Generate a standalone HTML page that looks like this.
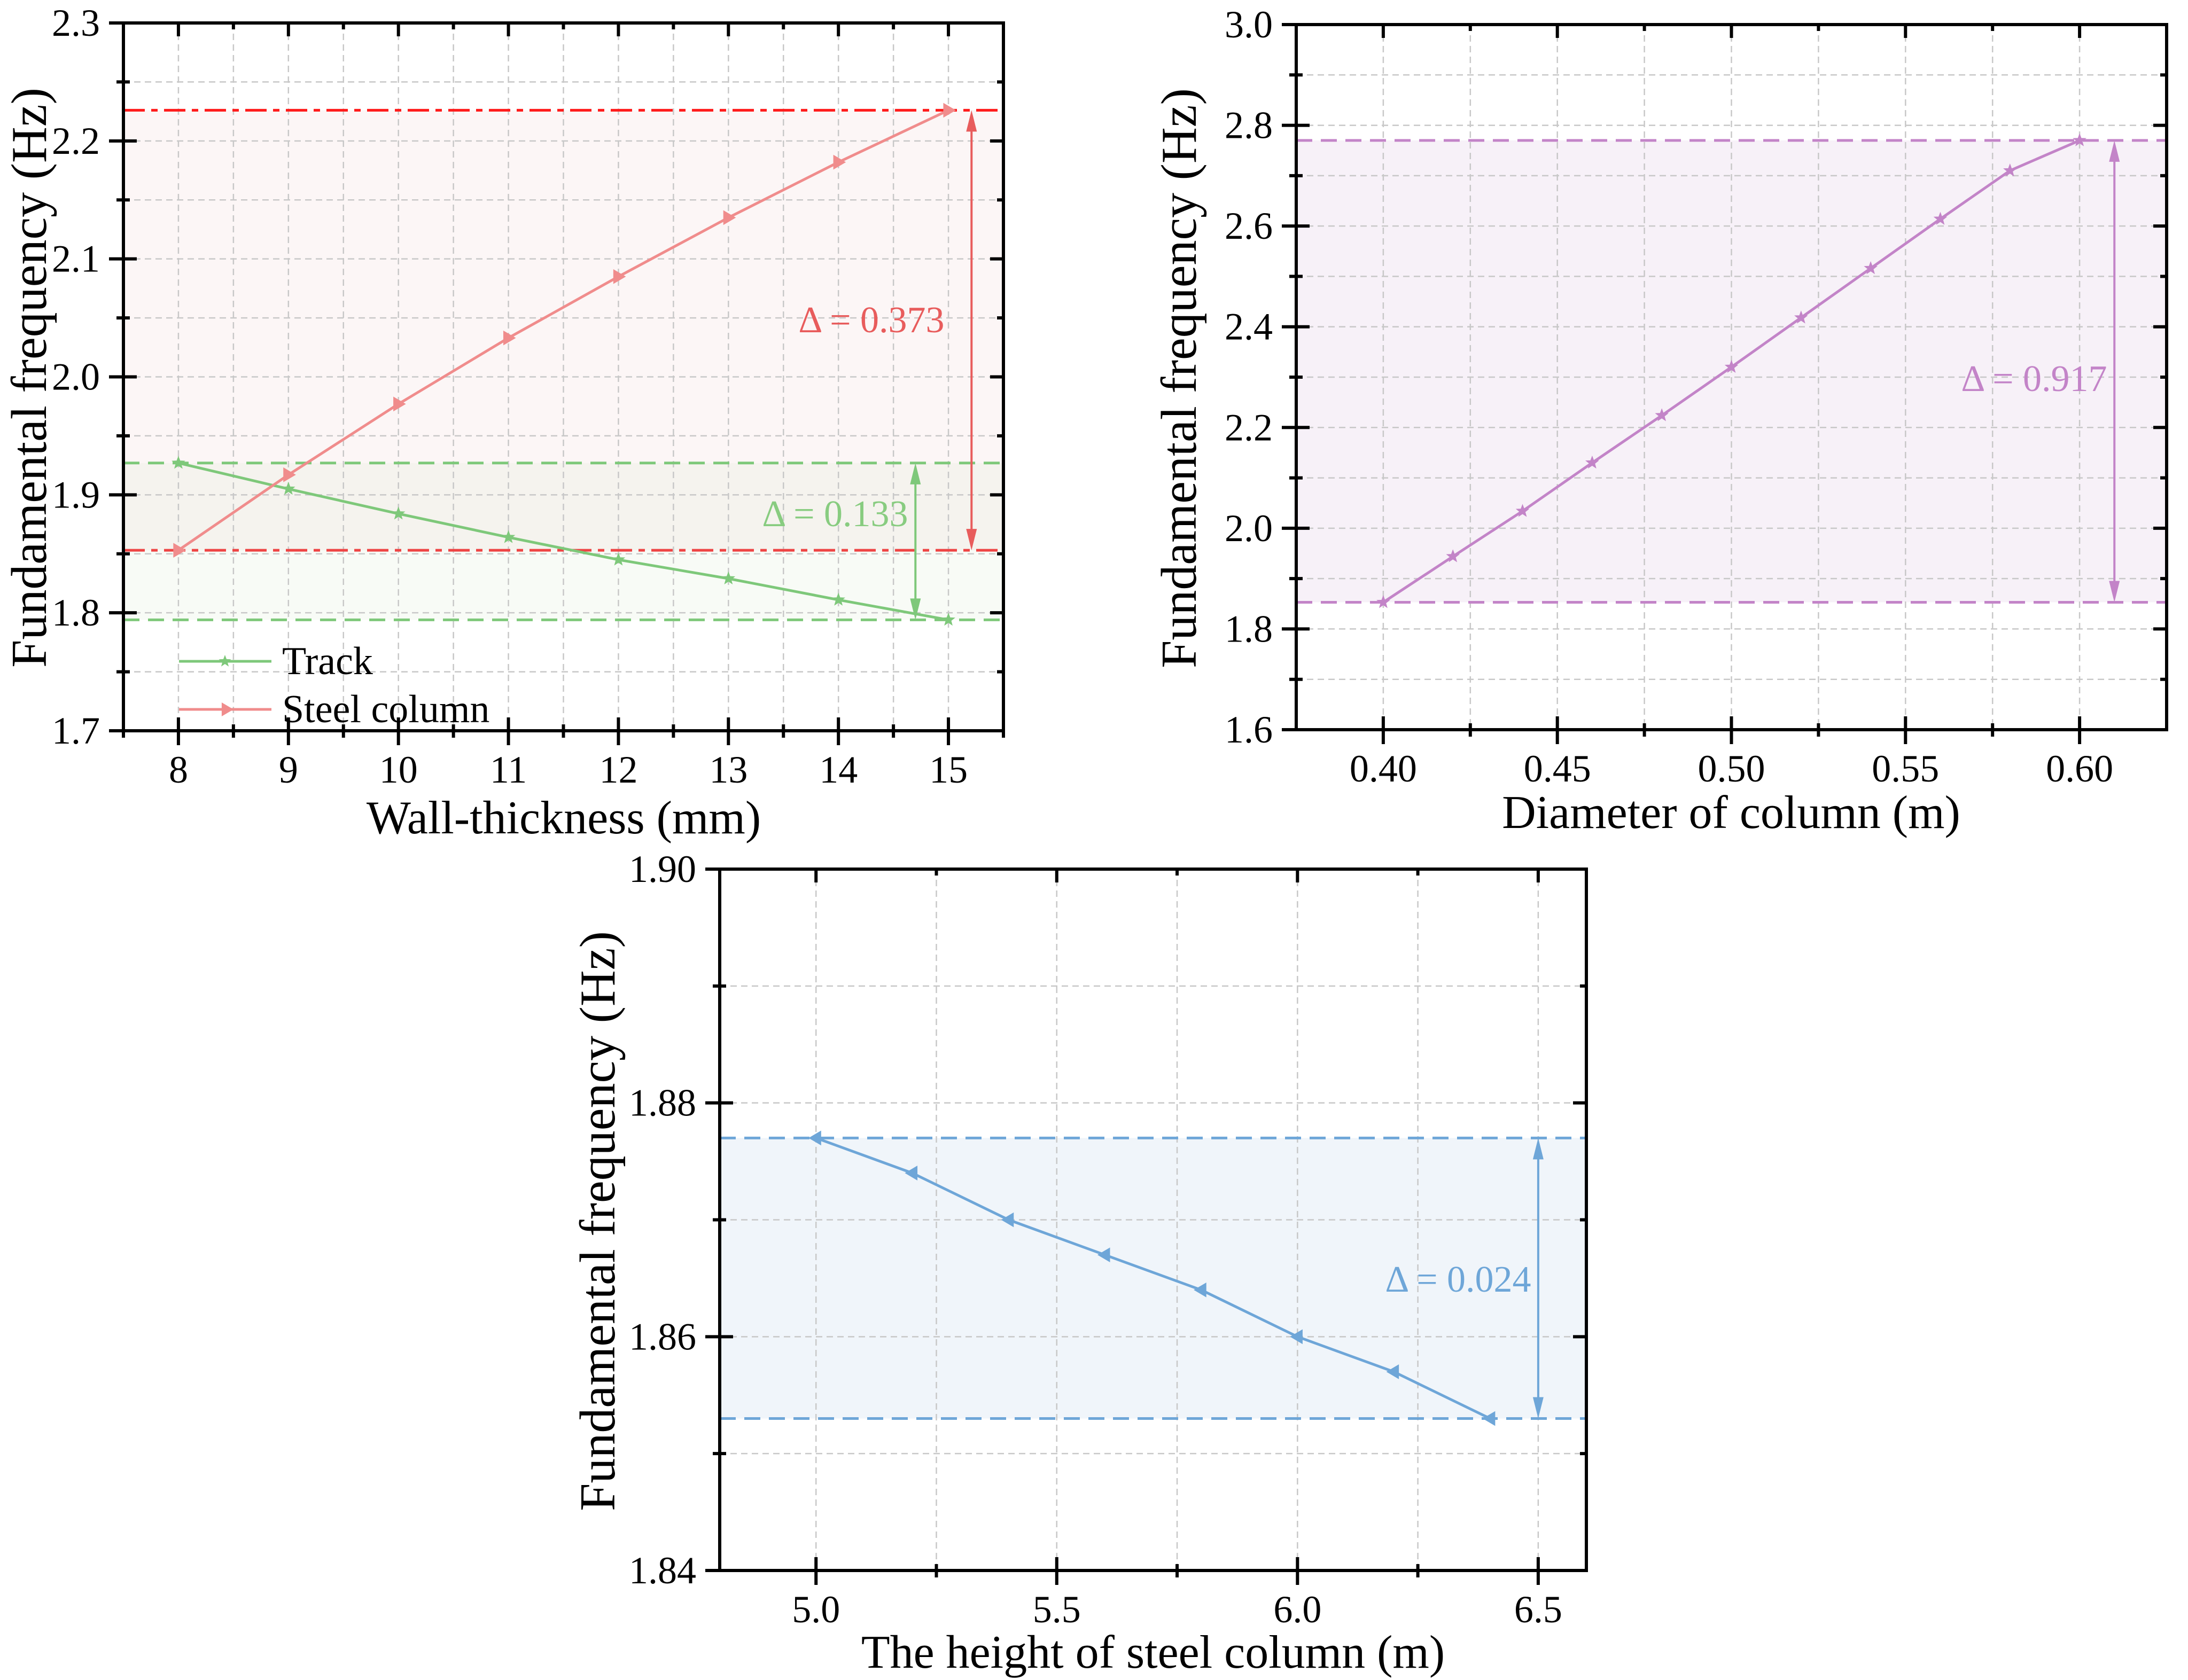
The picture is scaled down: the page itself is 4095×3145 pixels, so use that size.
<!DOCTYPE html>
<html><head><meta charset="utf-8"><style>
html,body{margin:0;padding:0;background:#fff}
svg{display:block}
svg text{font-family:"Liberation Serif",serif}
</style></head><body>
<svg id="fig" width="4095" height="3145" viewBox="0 0 4095 3145" xmlns="http://www.w3.org/2000/svg" font-family="Liberation Serif, serif"></svg>
<script>
// ---- Chart 1 data: wall thickness ----
const wallThickness = [8, 9, 10, 11, 12, 13, 14, 15];
const trackFreq = [1.927, 1.905, 1.884, 1.864, 1.845, 1.829, 1.811, 1.794];
const steelFreq = [1.853, 1.917, 1.977, 2.033, 2.085, 2.135, 2.182, 2.226];
const c1XTicks = [8, 9, 10, 11, 12, 13, 14, 15];
const c1YTicks = ["1.7", "1.8", "1.9", "2.0", "2.1", "2.2", "2.3"];
const c1Deltas = ["Δ = 0.373", "Δ = 0.133"];
// ---- Chart 2 data: diameter ----
const diameters = [0.40, 0.42, 0.44, 0.46, 0.48, 0.50, 0.52, 0.54, 0.56, 0.58, 0.60];
const diamFreq = [1.853, 1.944, 2.034, 2.130, 2.224, 2.320, 2.418, 2.516, 2.614, 2.710, 2.770];
const c2XTicks = ["0.40", "0.45", "0.50", "0.55", "0.60"];
const c2YTicks = ["1.6", "1.8", "2.0", "2.2", "2.4", "2.6", "2.8", "3.0"];
const c2Delta = "Δ = 0.917";
// ---- Chart 3 data: height ----
const heights = [5.0, 5.2, 5.4, 5.6, 5.8, 6.0, 6.2, 6.4];
const heightFreq = [1.877, 1.874, 1.870, 1.867, 1.864, 1.860, 1.857, 1.853];
const c3XTicks = ["5.0", "5.5", "6.0", "6.5"];
const c3YTicks = ["1.84", "1.86", "1.88", "1.90"];
const c3Delta = "Δ = 0.024";

const NS = "http://www.w3.org/2000/svg";
const FONT = '"Liberation Serif", serif';
const fig = document.getElementById('fig');
function mk(tag, attrs, parent) {
  const e = document.createElementNS(NS, tag);
  for (const k in attrs) e.setAttribute(k, attrs[k]);
  if (tag === 'text') e.style.fontFamily = FONT;
  (parent || fig).appendChild(e);
  return e;
}
function makeAxes(L, R, T, B, x0, x1, y0, y1) {
  return {
    sx: v => L + (v - x0) / (x1 - x0) * (R - L),
    sy: v => B - (v - y0) / (y1 - y0) * (B - T)
  };
}
function markerPath(type, x, y, s) {
  if (type === 'right') return `M${x-s*0.7},${y-s} L${x+s},${y} L${x-s*0.7},${y+s} Z`;
  if (type === 'left') return `M${x+s*0.7},${y-s} L${x-s},${y} L${x+s*0.7},${y+s} Z`;
  let d = '';
  for (let i = 0; i < 10; i++) {
    const r = i % 2 ? s * 0.42 : s;
    const a = -Math.PI / 2 + i * Math.PI / 5;
    d += (i ? 'L' : 'M') + (x + r * Math.cos(a)).toFixed(1) + ',' + (y + r * Math.sin(a)).toFixed(1);
  }
  return d + 'Z';
}
function frame(g, L, R, T, B, xs, xsMinor, ys, ysMinor, ax) {
  [...xs, ...xsMinor].forEach(v => { const x = ax.sx(v); mk('line', {x1: x, x2: x, y1: T, y2: B, stroke: '#c8c8c8', 'stroke-width': 2.5, 'stroke-dasharray': '12,8'}, g); });
  [...ys, ...ysMinor].forEach(v => { const y = ax.sy(v); mk('line', {x1: L, x2: R, y1: y, y2: y, stroke: '#c8c8c8', 'stroke-width': 2.5, 'stroke-dasharray': '12,8'}, g); });
}
function axesBox(g, L, R, T, B, xs, xsMinor, ys, ysMinor, ax) {
  const st = {stroke: '#000', 'stroke-width': 6};
  mk('rect', {x: L, y: T, width: R - L, height: B - T, fill: 'none', stroke: '#000', 'stroke-width': 6}, g);
  xs.forEach(v => { const x = ax.sx(v);
    mk('line', {x1: x, x2: x, y1: B - 25, y2: B + 27, ...st}, g);
    mk('line', {x1: x, x2: x, y1: T, y2: T + 25, ...st}, g); });
  xsMinor.forEach(v => { const x = ax.sx(v);
    mk('line', {x1: x, x2: x, y1: B - 12, y2: B + 13, ...st}, g);
    mk('line', {x1: x, x2: x, y1: T, y2: T + 12, ...st}, g); });
  ys.forEach(v => { const y = ax.sy(v);
    mk('line', {x1: L - 27, x2: L + 25, y1: y, y2: y, ...st}, g);
    mk('line', {x1: R - 25, x2: R, y1: y, y2: y, ...st}, g); });
  ysMinor.forEach(v => { const y = ax.sy(v);
    mk('line', {x1: L - 13, x2: L + 12, y1: y, y2: y, ...st}, g);
    mk('line', {x1: R - 12, x2: R, y1: y, y2: y, ...st}, g); });
}
function tickLabels(g, xs, xl, ys, yl, ax, B, L) {
  xs.forEach((v, i) => { const t = mk('text', {x: ax.sx(v), y: B + 97, 'font-size': 72, 'text-anchor': 'middle'}, g); t.textContent = xl[i];
    
     });
  ys.forEach((v, i) => { const t = mk('text', {x: L - 44, y: ax.sy(v) + 24, 'font-size': 72, 'text-anchor': 'end'}, g); t.textContent = yl[i];
    
     });
}
function titles(g, xt, xx, xy, yt, yx, yy) {
  const a = mk('text', {x: xx, y: xy, 'font-size': 88, 'text-anchor': 'middle'}, g); a.textContent = xt;
  
  
  const b = mk('text', {x: yx, y: yy, 'font-size': 94, 'text-anchor': 'middle', transform: `rotate(-90 ${yx} ${yy})`}, g); b.textContent = yt;
  
  
}
function series(g, xs, ys, ax, color, marker, name) {
  const pts = xs.map((x, i) => ax.sx(x).toFixed(1) + ',' + ax.sy(ys[i]).toFixed(1)).join(' ');
  const pl = mk('polyline', {points: pts, fill: 'none', stroke: color, 'stroke-width': 5, 'stroke-linejoin': 'round'}, g);
  
  
  xs.forEach((x, i) => {
    const p = mk('path', {d: markerPath(marker, ax.sx(x), ax.sy(ys[i]), marker === 'star' ? 12 : 13), fill: color, stroke: color, 'stroke-width': 1}, g);
    
    
  });
}
function hline(g, y, L, R, color, dash, name) {
  const l = mk('line', {x1: L, x2: R, y1: y, y2: y, stroke: color, 'stroke-width': 5, 'stroke-dasharray': dash}, g);
  
  
}
function dblArrow(g, x, y1, y2, color, name) {
  const ga = mk('g', {}, g);
  
  
  const top = Math.min(y1, y2), bot = Math.max(y1, y2);
  mk('line', {x1: x, x2: x, y1: top + 30, y2: bot - 30, stroke: color, 'stroke-width': 4}, ga);
  mk('path', {d: `M${x},${top} L${x-10},${top+40} L${x+10},${top+40} Z`, fill: color}, ga);
  mk('path', {d: `M${x},${bot} L${x-10},${bot-40} L${x+10},${bot-40} Z`, fill: color}, ga);
}
function label(g, txt, x, y, color, name) {
  const t = mk('text', {x: x, y: y, 'font-size': 70, 'text-anchor': 'middle', fill: color}, g);
  t.textContent = txt;
  
  
}
const range = (a, b, s) => { const r = []; for (let v = a; v <= b + 1e-9; v += s) r.push(+v.toFixed(4)); return r; };

// ===== Chart 1 =====
(function () {
  const L = 231, R = 1878, T = 43, B = 1368;
  const ax = makeAxes(L, R, T, B, 7.5, 15.5, 1.7, 2.3);
  const g = mk('g', {});
  
  
  const sMin = Math.min(...steelFreq), sMax = Math.max(...steelFreq);
  const tMin = Math.min(...trackFreq), tMax = Math.max(...trackFreq);
  mk('rect', {x: L, y: ax.sy(sMax), width: R - L, height: ax.sy(sMin) - ax.sy(sMax), fill: '#fcf6f6'}, g);
  mk('rect', {x: L, y: ax.sy(tMax), width: R - L, height: ax.sy(tMin) - ax.sy(tMax), fill: '#f8fbf6'}, g);
  mk('rect', {x: L, y: ax.sy(tMax), width: R - L, height: ax.sy(sMin) - ax.sy(tMax), fill: '#f5f3ee'}, g);
  const xMaj = c1XTicks, xMin = c1XTicks.map(v => v + 0.5).concat([7.5]).filter(v => v <= 15.5);
  const yMaj = c1YTicks.map(Number), yMin = range(1.75, 2.25, 0.1);
  frame(g, L, R, T, B, xMaj, xMin, yMaj, yMin, ax);
  hline(g, ax.sy(sMax), L, R, '#ff1a1a', '40,12,12,12', 'steel-max-line');
  hline(g, ax.sy(sMin), L, R, '#ee4444', '40,12,12,12', 'steel-min-line');
  hline(g, ax.sy(tMax), L, R, '#7ec87a', '30,16', 'track-max-line');
  hline(g, ax.sy(tMin), L, R, '#7ec87a', '30,16', 'track-min-line');
  series(g, wallThickness, trackFreq, ax, '#7ec87a', 'star', 'track');
  series(g, wallThickness, steelFreq, ax, '#f08c8c', 'right', 'steel-column');
  dblArrow(g, ax.sx(15.21), ax.sy(sMax), ax.sy(sMin), '#e85c5c', 'steel-delta-arrow');
  dblArrow(g, ax.sx(14.7), ax.sy(tMax), ax.sy(tMin), '#7ec87a', 'track-delta-arrow');
  label(g, c1Deltas[0], 1631, 622, '#e85c5c', 'steel-delta-label');
  label(g, c1Deltas[1], 1563, 985, '#88cc80', 'track-delta-label');
  axesBox(g, L, R, T, B, xMaj, xMin, yMaj, yMin, ax);
  tickLabels(g, xMaj, xMaj.map(String), yMaj, c1YTicks, ax, B, L);
  titles(g, 'Wall-thickness (mm)', 1055, 1560, 'Fundamental frequency (Hz)', 86, 707);
  const lg = mk('g', {}, g);
  
  
  mk('line', {x1: 335, x2: 508, y1: 1238, y2: 1238, stroke: '#7ec87a', 'stroke-width': 5}, lg);
  mk('path', {d: markerPath('star', 421, 1238, 12), fill: '#7ec87a'}, lg);
  const t1 = mk('text', {x: 528, y: 1262, 'font-size': 74}, lg); t1.textContent = 'Track';
  
  
  mk('line', {x1: 335, x2: 508, y1: 1328, y2: 1328, stroke: '#f08c8c', 'stroke-width': 5}, lg);
  mk('path', {d: markerPath('right', 424, 1328, 13), fill: '#f08c8c'}, lg);
  const t2 = mk('text', {x: 528, y: 1352, 'font-size': 74}, lg); t2.textContent = 'Steel column';
  
  
})();

// ===== Chart 2 =====
(function () {
  const L = 2426, R = 4055, T = 46, B = 1366;
  const ax = makeAxes(L, R, T, B, 0.375, 0.625, 1.6, 3.0);
  const g = mk('g', {});
  
  
  const mn = Math.min(...diamFreq), mx = Math.max(...diamFreq);
  mk('rect', {x: L, y: ax.sy(mx), width: R - L, height: ax.sy(mn) - ax.sy(mx), fill: '#f7f1f8'}, g);
  const xMaj = c2XTicks.map(Number), xMin = range(0.375, 0.625, 0.05).filter(v => v > 0.376 && v < 0.624);
  const yMaj = c2YTicks.map(Number), yMin = range(1.7, 2.9, 0.2);
  frame(g, L, R, T, B, xMaj, xMin, yMaj, yMin, ax);
  hline(g, ax.sy(mx), L, R, '#c384c8', '30,16', 'diameter-max-line');
  hline(g, ax.sy(mn), L, R, '#c384c8', '30,16', 'diameter-min-line');
  series(g, diameters, diamFreq, ax, '#c384c8', 'star', 'diameter');
  dblArrow(g, ax.sx(0.61), ax.sy(mx), ax.sy(mn), '#c384c8', 'diameter-delta-arrow');
  label(g, c2Delta, 3807, 732, '#c384c8', 'diameter-delta-label');
  axesBox(g, L, R, T, B, xMaj, xMin, yMaj, yMin, ax);
  tickLabels(g, xMaj, c2XTicks, yMaj, c2YTicks, ax, B, L);
  titles(g, 'Diameter of column (m)', 3240, 1550, 'Fundamental frequency (Hz)', 2238, 708);
})();

// ===== Chart 3 =====
(function () {
  const L = 1347, R = 2969, T = 1627, B = 2940;
  const ax = makeAxes(L, R, T, B, 4.8, 6.6, 1.84, 1.90);
  const g = mk('g', {});
  
  
  const mn = Math.min(...heightFreq), mx = Math.max(...heightFreq);
  mk('rect', {x: L, y: ax.sy(mx), width: R - L, height: ax.sy(mn) - ax.sy(mx), fill: '#f0f5fa'}, g);
  const xMaj = c3XTicks.map(Number), xMin = [5.25, 5.75, 6.25];
  const yMaj = c3YTicks.map(Number), yMin = [1.85, 1.87, 1.89];
  frame(g, L, R, T, B, xMaj, xMin, yMaj, yMin, ax);
  hline(g, ax.sy(mx), L, R, '#6ea6d8', '30,16', 'height-max-line');
  hline(g, ax.sy(mn), L, R, '#6ea6d8', '30,16', 'height-min-line');
  series(g, heights, heightFreq, ax, '#6ea6d8', 'left', 'height');
  dblArrow(g, ax.sx(6.5), ax.sy(mx), ax.sy(mn), '#6ea6d8', 'height-delta-arrow');
  label(g, c3Delta, 2729, 2418, '#6ea6d8', 'height-delta-label');
  axesBox(g, L, R, T, B, xMaj, xMin, yMaj, yMin, ax);
  tickLabels(g, xMaj, c3XTicks, yMaj, c3YTicks, ax, B, L);
  titles(g, 'The height of steel column (m)', 2158, 3122, 'Fundamental frequency (Hz)', 1150, 2286);
})();
</script>
</body></html>
